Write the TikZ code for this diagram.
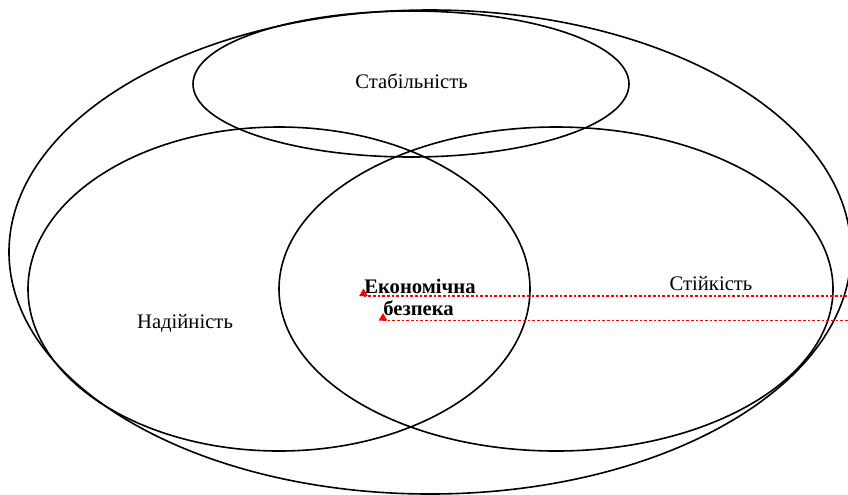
\documentclass[tikz,border=0pt]{standalone}
\usepackage{fontspec}
\setmainfont{Liberation Serif}
\usetikzlibrary{shapes.geometric}

\begin{document}
\begin{tikzpicture}[x=0.75pt, y=-0.75pt, font=\fontsize{15.5}{18}\selectfont,
	set/.style={draw, line width=1.2pt},
	pin/.style={regular polygon, regular polygon sides=3, fill=red, inner sep=0pt, outer sep=0pt, minimum size=7.5pt, anchor=south},
	lead/.style={draw=red, line width=0.9pt, dash pattern=on 2pt off 1.5pt}]
\useasboundingbox (0,0) rectangle (848,494);

% sets
\draw[set] (430,252) ellipse [x radius=421, y radius=242];
\draw[set] (411,84) ellipse [x radius=218, y radius=73];
\draw[set] (279,289) ellipse [x radius=251, y radius=162];
\draw[set] (556,289) ellipse [x radius=277, y radius=162];

\path (411.5,88) node[anchor=base] (stab) {Стабільність}
	  (185,328) node[anchor=base] (nad) {Надійність}
	  (711,290) node[anchor=base] (stiyk) {Стійкість};

\path (364,293) node[anchor=base west, inner sep=0pt, font=\fontsize{15.5}{18}\selectfont\bfseries] (ek1) {Економічна}
	  (383,315.5) node[anchor=base west, inner sep=0pt, font=\fontsize{15.5}{18}\selectfont\bfseries] (ek2) {безпека};

\path (363.5,296) node[pin] (p1) {}
	  (383,320.5) node[pin] (p2) {};
\coordinate (e1) at (850,296);
\coordinate (e2) at (850,320.5);

\draw[lead] (p1.south) -- (e1);
\draw[lead] (p2.south) -- (e2);
\end{tikzpicture}
\end{document}
